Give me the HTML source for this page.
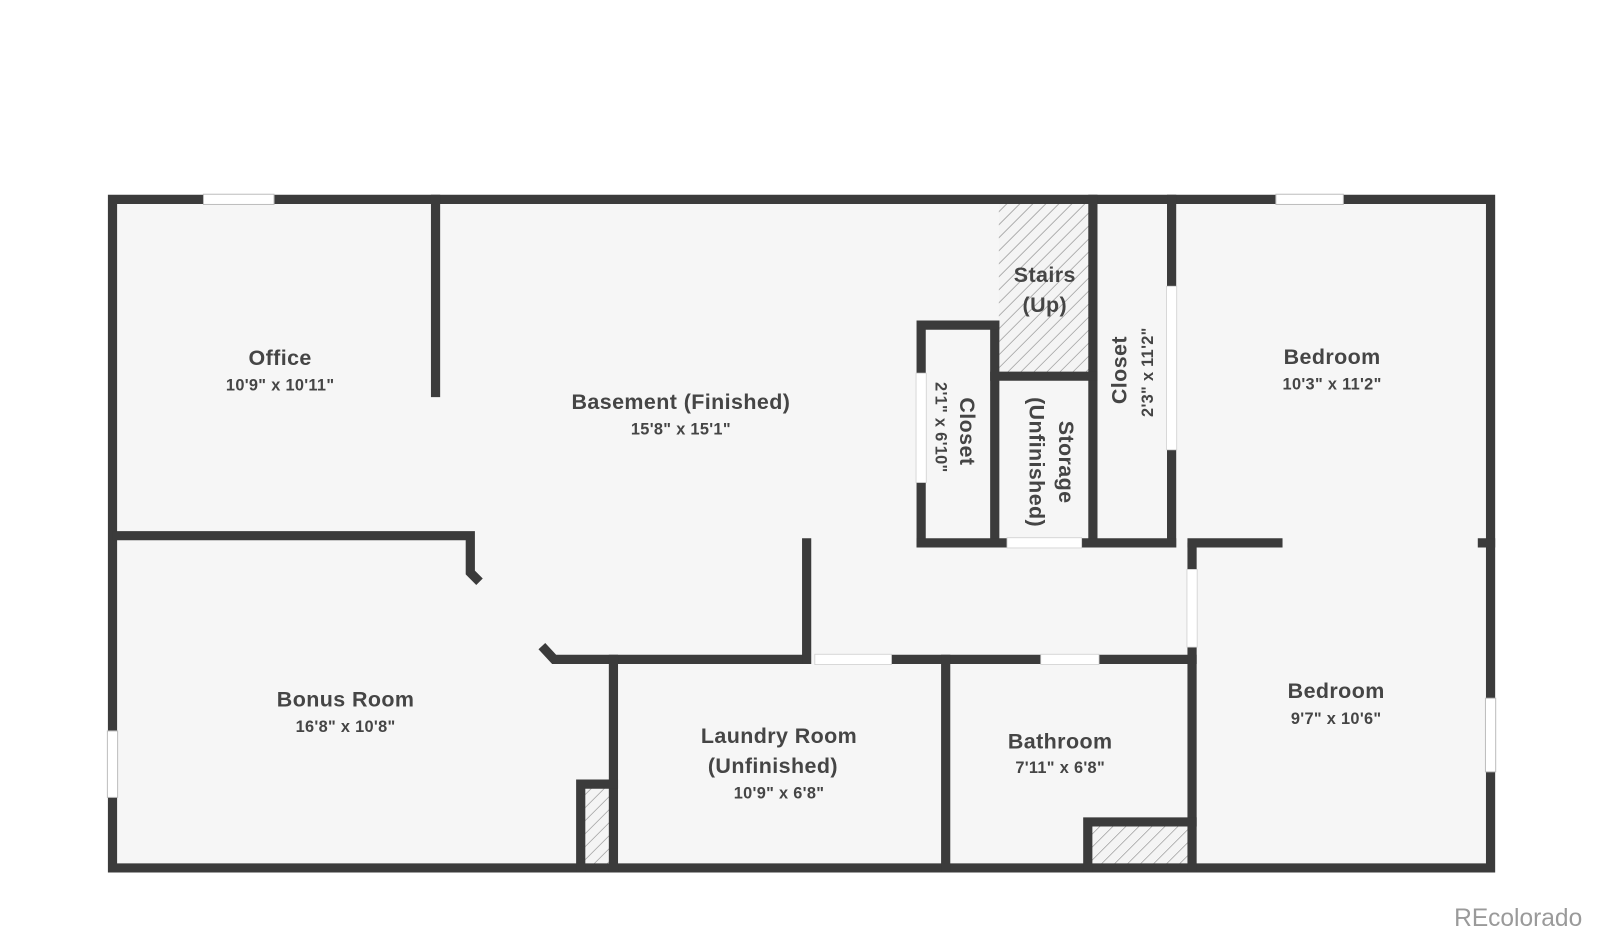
<!DOCTYPE html>
<html><head><meta charset="utf-8"><style>
html,body{margin:0;padding:0;background:#fff;}
svg{display:block}
text{font-family:"Liberation Sans",sans-serif;fill:#454545;text-anchor:middle;}
.t{font-weight:bold;font-size:21px;letter-spacing:0.4px}
.d{font-weight:bold;font-size:16px;letter-spacing:0.3px}
</style></head><body>
<svg width="1600" height="935" viewBox="0 0 1565 914.6" xmlns="http://www.w3.org/2000/svg">
<defs>
<pattern id="h" width="9" height="9" patternUnits="userSpaceOnUse" patternTransform="rotate(45)">
<rect width="9" height="9" fill="#f4f4f4"/><line x1="0" y1="0" x2="0" y2="9" stroke="#888" stroke-width="1.2"/>
</pattern>
</defs>
<rect x="110" y="195" width="1348" height="654" fill="#f6f6f6"/>
<rect x="977" y="199" width="91" height="168" fill="url(#h)"/>
<rect x="568" y="767" width="32" height="82" fill="url(#h)"/>
<rect x="1064" y="804" width="102" height="45" fill="url(#h)"/>
<g stroke="#3b3b3b" stroke-width="9" fill="none" stroke-linecap="square">
<polyline points="110,195 1458,195 1458,849 110,849 110,195"/>
<line x1="426" y1="195" x2="426" y2="384"/>
<polyline points="110,524 460,524 460,560 469,569" stroke-linecap="butt"/>
<polyline points="530,632 542,645 790,645" stroke-linecap="butt"/>
<line x1="789" y1="531" x2="789" y2="645"/>
<line x1="872" y1="645" x2="1166" y2="645"/>
<line x1="600" y1="645" x2="600" y2="849"/>
<polyline points="568,849 568,767 600,767"/>
<line x1="925" y1="645" x2="925" y2="849"/>
<line x1="1166" y1="535" x2="1166" y2="849"/>
<polyline points="1064,849 1064,804 1166,804"/>
<line x1="1166" y1="531" x2="1250" y2="531"/>
<line x1="1450" y1="531" x2="1458" y2="531"/>
<line x1="1146" y1="195" x2="1146" y2="531"/>
<line x1="1069" y1="195" x2="1069" y2="531"/>
<line x1="973" y1="368" x2="1069" y2="368"/>
<line x1="973" y1="318" x2="973" y2="531"/>
<polyline points="901,531 901,318 973,318"/>
<line x1="901" y1="531" x2="1146" y2="531"/>
</g>
<g fill="#fff" stroke="#bdbdbd" stroke-width="1">
<rect x="199" y="190" width="69" height="10"/>
<rect x="1248" y="190" width="66" height="10"/>
<rect x="105" y="715" width="10" height="65"/>
<rect x="1453" y="683" width="10" height="72"/>
</g>
<g fill="#fff" stroke="#d0d0d0" stroke-width="0.8">
<rect x="797" y="640" width="75" height="10"/>
<rect x="1018" y="640" width="57" height="10"/>
<rect x="1161" y="557" width="10" height="76"/>
<rect x="1141" y="280" width="10" height="160"/>
<rect x="896" y="365" width="10" height="107"/>
<rect x="985" y="526" width="73" height="10"/>
</g>
<text class="t" x="274" y="357">Office</text>
<text class="d" x="274" y="382">10'9" x 10'11"</text>
<text class="t" x="666" y="400">Basement (Finished)</text>
<text class="d" x="666" y="425">15'8" x 15'1"</text>
<text class="t" x="1303" y="356">Bedroom</text>
<text class="d" x="1303" y="381">10'3" x 11'2"</text>
<text class="t" x="1307" y="683">Bedroom</text>
<text class="d" x="1307" y="708">9'7" x 10'6"</text>
<text class="t" x="338" y="691">Bonus Room</text>
<text class="d" x="338" y="716">16'8" x 10'8"</text>
<text class="t" x="762" y="727">Laundry Room</text>
<text class="t" x="756" y="756">(Unfinished)</text>
<text class="d" x="762" y="781">10'9" x 6'8"</text>
<text class="t" x="1037" y="732">Bathroom</text>
<text class="d" x="1037" y="756">7'11" x 6'8"</text>
<text class="t" x="1022" y="276">Stairs</text>
<text class="t" x="1022" y="305">(Up)</text>
<text class="t" transform="translate(939,422) rotate(90)">Closet</text>
<text class="d" transform="translate(915,418) rotate(90)">2'1" x 6'10"</text>
<text class="t" transform="translate(1036,452) rotate(90)">Storage</text>
<text class="t" transform="translate(1007,452) rotate(90)">(Unfinished)</text>
<text class="t" transform="translate(1102,362) rotate(-90)">Closet</text>
<text class="d" transform="translate(1128,364) rotate(-90)">2'3" x 11'2"</text>
<text x="1485" y="906" style="font-size:24px;fill:#9a9a9a">REcolorado</text>
</svg>
</body></html>
